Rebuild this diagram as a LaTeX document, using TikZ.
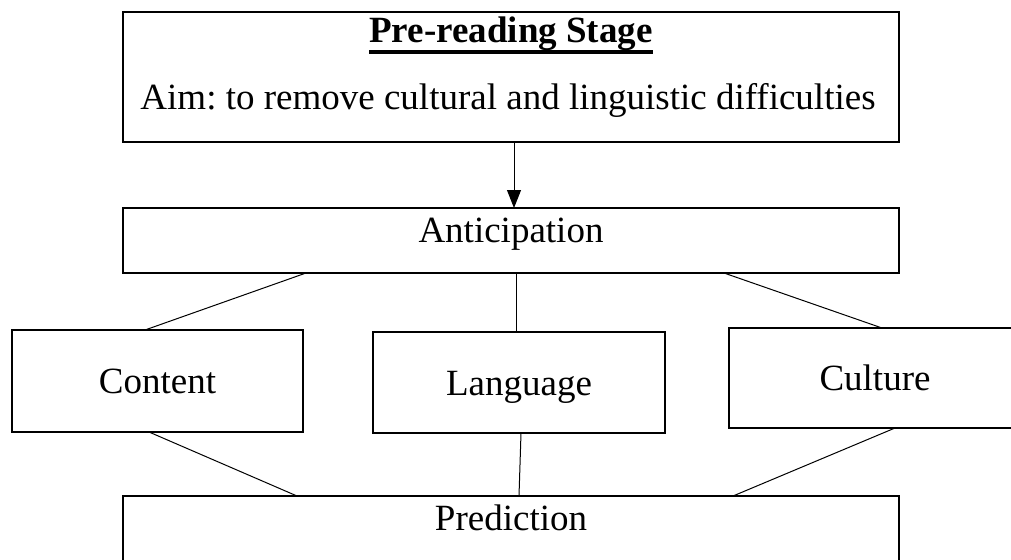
\documentclass[tikz,border=0pt]{standalone}
\usepackage{fontspec}
\setmainfont{Liberation Serif}
\usepackage{tikz}
\usetikzlibrary{arrows.meta,positioning}
\frenchspacing

\newcommand{\thickul}[1]{\setbox0=\hbox{#1}\rlap{\rule[-11pt]{\wd0}{4pt}}\box0}

\begin{document}
\begin{tikzpicture}[x=1pt, y=-1pt,
    font=\fontsize{37}{44}\selectfont,
    stagebox/.style={draw, line width=2.2pt, outer sep=0pt, inner sep=0pt},
    topline/.style={stagebox, minimum width=776pt, text height=34pt, text depth=31pt, anchor=north},
    wordbox/.style={stagebox, minimum width=292pt, text height=25pt, text depth=0pt},
    link/.style={line width=1pt}]
    \useasboundingbox (0,0) rectangle (1011,559);

    % Stage box
    \node[stagebox, minimum width=776pt, minimum height=130pt] (pre) at (511,77) {};
    \node[anchor=base] (title) at (511,43) {\thickul{\textbf{Pre-reading Stage}}};
    \node[anchor=base] (aim) at (508,110) {Aim: to remove cultural and linguistic difficulties};

    % Anticipation / prediction
    \node[topline] (antic) at (511,208) {Anticipation};
    \node[topline] (pred) at (511,496) {Prediction};

    % Middle row
    \node[wordbox, minimum width=291pt, minimum height=102pt] (content) at (157.5,381) {Content};
    \node[wordbox, minimum height=101pt] (lang) at (519,382.5) {Language};
    \node[wordbox, minimum height=100pt] (cult) at (875,378) {Culture};

    % Arrow
    \draw[line width=1pt, -{Triangle[width=14pt,length=18pt]}] ([xshift=3pt]pre.south) -- ([xshift=3pt]antic.north);

    % Upper links
    \draw[link] ([xshift=-205pt]antic.south) -- ([xshift=-12.5pt]content.north);
    \draw[link] ([xshift=5pt]antic.south) -- ([xshift=-3pt]lang.north);
    \draw[link] ([xshift=213pt]antic.south) -- ([xshift=7pt]cult.north);

    % Lower links
    \draw[link] ([xshift=-8.5pt]content.south) -- ([xshift=-214pt]pred.north);
    \draw[link] ([xshift=2pt]lang.south) -- ([xshift=8pt]pred.north);
    \draw[link] ([xshift=20pt]cult.south) -- ([xshift=222pt]pred.north);
\end{tikzpicture}
\end{document}
